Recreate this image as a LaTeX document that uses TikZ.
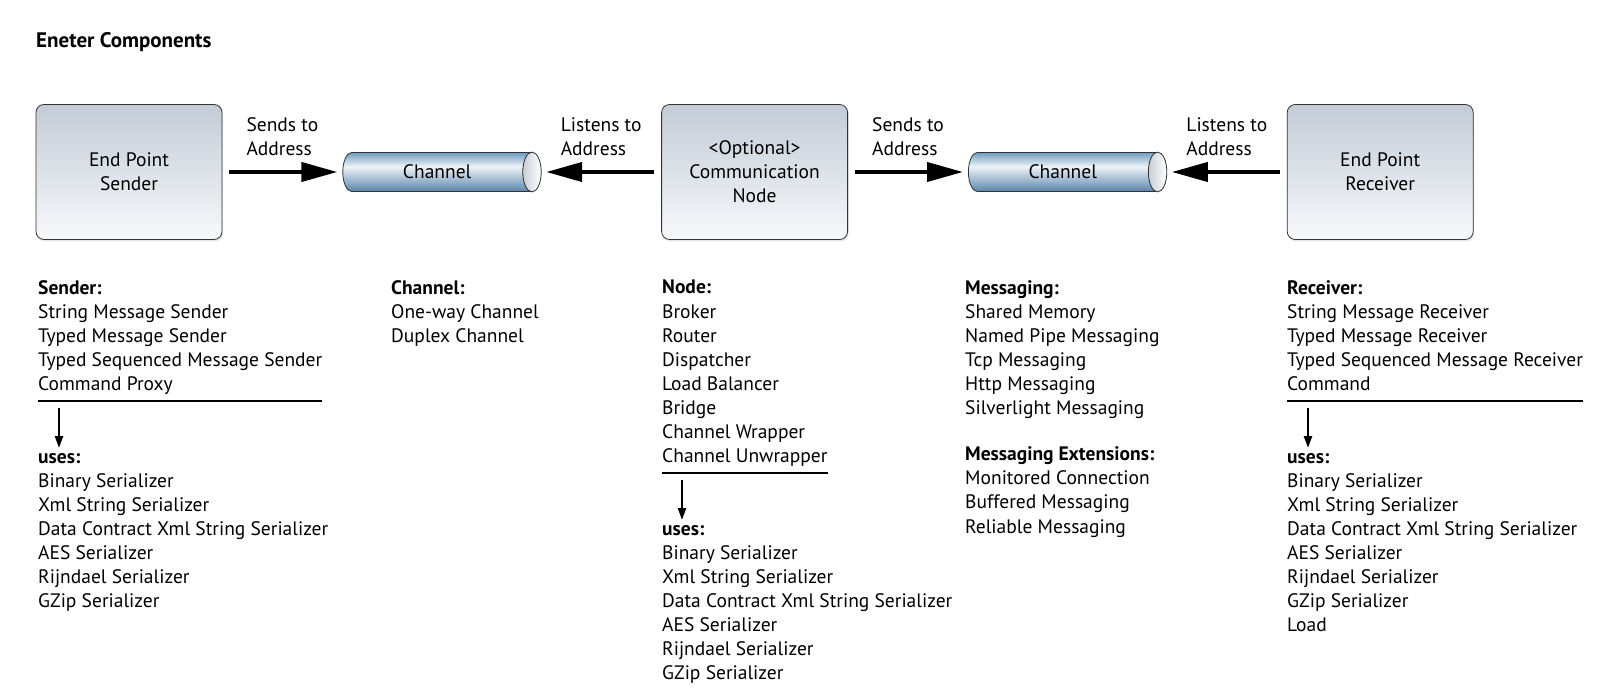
\documentclass[tikz,border=0pt]{standalone}
\usepackage{fontspec}
\setmainfont{PT Sans}
\usetikzlibrary{positioning,shapes.geometric,shadows,arrows.meta,calc}

\definecolor{boxtop}{HTML}{C3CCD7}
\definecolor{boxbot}{HTML}{F7F8FA}
\definecolor{chtop}{HTML}{6E9DC0}
\definecolor{chmid}{HTML}{EEF3F7}
\definecolor{chbot}{HTML}{5A85AB}
\definecolor{chend}{HTML}{C9CED4}

\pgfdeclareverticalshading{channelshade}{100bp}{color(0bp)=(chbot); color(25bp)=(chbot); color(57bp)=(chmid); color(75bp)=(chtop); color(100bp)=(chtop)}

\begin{document}
\begin{tikzpicture}[x=1pt, y=-1pt]
	\tikzset{
		mybox/.style={rectangle, rounded corners=8pt, draw=black!80, line width=0.8pt, top color=boxtop, bottom color=boxbot, minimum width=186pt, minimum height=135pt, align=center, font=\fontsize{19.5}{24.1}\selectfont, drop shadow={shadow xshift=1pt, shadow yshift=-2pt, opacity=0.2}},
		mychannel/.style={cylinder, shape aspect=1.25, draw=black!80, line width=0.8pt, shade, shading=channelshade, minimum height=198pt, minimum width=39pt, inner sep=0pt, font=\fontsize{19.5}{24.1}\selectfont},
		myend/.style={draw=black!80, line width=0.8pt, left color=chend, right color=white},
		myarrow/.style={-{Triangle[length=36pt,width=19pt]}, line width=4pt, shorten <=7pt, shorten >=5pt},
		myarrow1/.style={-{Triangle[length=12pt,width=8pt]}, line width=2.4pt},
		myrule/.style={line width=1.6pt},
		mylabel/.style={align=left, inner sep=0pt, font=\fontsize{19.5}{24.1}\selectfont},
		mylist/.style={anchor=north west, align=left, inner sep=0pt, font=\fontsize{19.5}{24.1}\selectfont},
		mytitle/.style={anchor=west, inner sep=0pt, font=\fontsize{21}{24}\selectfont\bfseries}
	}
	\useasboundingbox (0,0) rectangle (1611,700);

	\node[mytitle] (title) at (36,42) {Eneter Components};

	% components
	\node[mybox] (sender) at (129,172) {End Point\\Sender};
	\node[mychannel, right=120pt of sender] (ch1) {Channel};
	\node[mybox, right=120pt of ch1] (comm) {<Optional>\\Communication\\Node};
	\node[mychannel, right=120pt of comm] (ch2) {Channel};
	\node[mybox, right=120pt of ch2] (receiver) {End Point\\Receiver};

	\foreach \c in {ch1,ch2}
		\draw[myend] let \p1=($(\c.before top)!0.5!(\c.after top)$), \p2=(\c.east), \p3=(\c.before top) in (\p1) ellipse ({\x2-\x1} and {abs(\y3-\y1)});

	\draw[myarrow] (sender) -- (ch1) node[mylabel, midway, above=14pt] {Sends to\\Address};
	\draw[myarrow] (comm) -- (ch1) node[mylabel, midway, above=14pt] {Listens to\\Address};
	\draw[myarrow] (comm) -- (ch2) node[mylabel, midway, above=14pt] {Sends to\\Address};
	\draw[myarrow] (receiver) -- (ch2) node[mylabel, midway, above=14pt] {Listens to\\Address};

	% lists
	\node[mylist] (senderlist) at (38,280) {\textbf{Sender:}\\String Message Sender\\Typed Message Sender\\Typed Sequenced Message Sender\\Command Proxy};
	\node[mylist] (senderuses) at (38,453) {\textbf{uses:}\\Binary Serializer\\Xml String Serializer\\Data Contract Xml String Serializer\\AES Serializer\\Rijndael Serializer\\GZip Serializer};
	\node[mylist] (channellist) at (391,280) {\textbf{Channel:}\\One-way Channel\\Duplex Channel};
	\node[mylist] (commlist) at (662,280) {\textbf{Node:}\\Broker\\Router\\Dispatcher\\Load Balancer\\Bridge\\Channel Wrapper\\Channel Unwrapper};
	\node[mylist] (commuses) at (662,525) {\textbf{uses:}\\Binary Serializer\\Xml String Serializer\\Data Contract Xml String Serializer\\AES Serializer\\Rijndael Serializer\\GZip Serializer};
	\node[mylist] (msglist) at (965,280) {\textbf{Messaging:}\\Shared Memory\\Named Pipe Messaging\\Tcp Messaging\\Http Messaging\\Silverlight Messaging};
	\node[mylist] (extlist) at (965,446.7) {\textbf{Messaging Extensions:}\\Monitored Connection\\Buffered Messaging\\Reliable Messaging};
	\node[mylist] (receiverlist) at (1287,280) {\textbf{Receiver:}\\String Message Receiver\\Typed Message Receiver\\Typed Sequenced Message Receiver\\Command};
	\node[mylist] (receiveruses) at (1287,453) {\textbf{uses:}\\Binary Serializer\\Xml String Serializer\\Data Contract Xml String Serializer\\AES Serializer\\Rijndael Serializer\\GZip Serializer\\Load};

	\coordinate (senderrule) at (38,401);
	\coordinate (commrule) at (662,473);
	\coordinate (receiverrule) at (1287,401);
	\draw[myrule] (senderrule) -- (senderlist.east |- senderrule);
	\draw[myrule] (commrule) -- (commlist.east |- commrule);
	\draw[myrule] (receiverrule) -- (receiverlist.east |- receiverrule);
	\draw[myarrow1] ([shift={(21pt,-7pt)}]senderrule) -- ([shift={(21pt,5pt)}]senderuses.north west);
	\draw[myarrow1] ([shift={(20pt,-7pt)}]commrule) -- ([shift={(20pt,5pt)}]commuses.north west);
	\draw[myarrow1] ([shift={(21pt,-7pt)}]receiverrule) -- ([shift={(21pt,5pt)}]receiveruses.north west);
\end{tikzpicture}
\end{document}
